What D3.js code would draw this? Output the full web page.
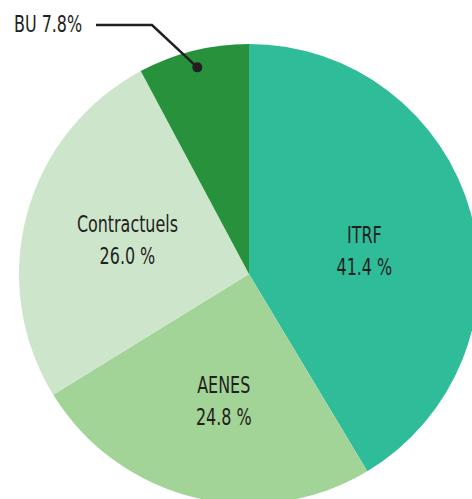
<!DOCTYPE html>
<html>
<head>
<meta charset="utf-8">
<script src="https://cdn.jsdelivr.net/npm/d3@7"></script>
<style>
  body { margin: 0; background: #fff; }
  svg text { font-family: "DejaVu Sans Condensed", "DejaVu Sans", sans-serif; fill: #231f20; }
</style>
</head>
<body>
<div id="chart"></div>
<script>
// Répartition des personnels (%)
var categories = ["ITRF", "AENES", "Contractuels", "BU"];
var values = [41.4, 24.8, 26.0, 7.8];
var valueLabels = ["41.4 %", "24.8 %", "26.0 %", "7.8%"];

var colors = ["#2fbc99", "#a2d397", "#cde6cb", "#28913b"];

var width = 472, height = 499;
var cx = 249, cy = 274, radius = 230;
var squeeze = 0.77; // the original font is a condensed one

var svg = d3.select("#chart").append("svg")
  .attr("width", width)
  .attr("height", height);

var g = svg.append("g")
  .attr("transform", "translate(" + cx + "," + cy + ")");

var data = categories.map(function(d, i){
  return { name: d, value: values[i], label: valueLabels[i] };
});

var pie = d3.pie()
  .sort(null)
  .value(function(d){ return d.value; });

var arc = d3.arc()
  .innerRadius(0)
  .outerRadius(radius);

var color = d3.scaleOrdinal()
  .domain(categories)
  .range(colors);

var arcs = pie(data);

g.selectAll(".slice")
  .data(arcs)
  .enter().append("path")
  .attr("class", "slice")
  .attr("d", arc)
  .attr("fill", function(d){ return color(d.data.name); });

// labels inside the big slices, nudged a bit like the original
var labelArc = d3.arc().innerRadius(128).outerRadius(128);
var nudge = { "ITRF": [-8, 18], "AENES": [5, 10], "Contractuels": [2, 6] };

var inside = arcs.filter(function(d){ return d.data.name != "BU"; });

var lab = g.selectAll(".label")
  .data(inside)
  .enter().append("g")
  .attr("class", "label")
  .attr("transform", function(d){
    var c = labelArc.centroid(d), n = nudge[d.data.name];
    return "translate(" + (c[0] + n[0]) + "," + (c[1] + n[1]) + ") scale(" + squeeze + ",1)";
  });

lab.append("text")
  .attr("text-anchor", "middle")
  .attr("y", -15)
  .style("font-size", "23px")
  .text(function(d){ return d.data.name; });

lab.append("text")
  .attr("text-anchor", "middle")
  .attr("y", 17)
  .style("font-size", "23px")
  .text(function(d){ return d.data.label; });

// BU callout
var bu = arcs.filter(function(d){ return d.data.name == "BU"; })[0];
var dotArc = d3.arc().innerRadius(213).outerRadius(213);
var p = dotArc.centroid(bu);

g.append("polyline")
  .attr("points", [[p[0], p[1]], [152 - cx, 25 - cy], [96 - cx, 25 - cy]].map(function(q){ return q.join(","); }).join(" "))
  .attr("fill", "none")
  .attr("stroke", "#231f20")
  .attr("stroke-width", 2.5);

g.append("circle")
  .attr("cx", p[0])
  .attr("cy", p[1])
  .attr("r", 5)
  .attr("fill", "#231f20");

g.append("g")
  .attr("transform", "translate(" + (14 - cx) + "," + (32 - cy) + ") scale(" + squeeze + ",1)")
  .append("text")
  .attr("text-anchor", "start")
  .style("font-size", "23px")
  .text(bu.data.name + " " + bu.data.label);
</script>
</body>
</html>
